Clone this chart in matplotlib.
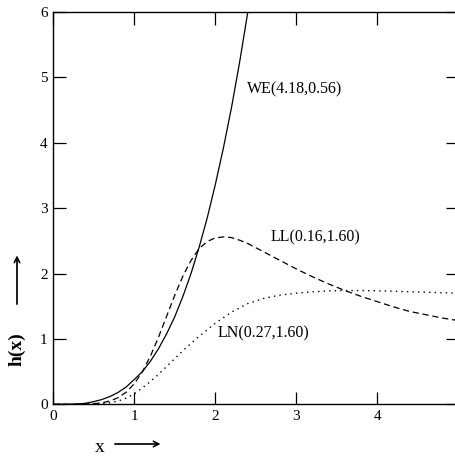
import matplotlib
matplotlib.use("Agg")
from matplotlib import pyplot as plt

plt.rcParams['font.family'] = ['Liberation Serif', 'DejaVu Serif']

# WE(4.18,0.56) hazard
x_we = [0.0, 0.1, 0.2, 0.3, 0.4, 0.5, 0.6, 0.7, 0.8, 0.9, 1.0, 1.1, 1.2, 1.3,
        1.4, 1.5, 1.6, 1.7, 1.8, 1.9, 2.0, 2.1, 2.2, 2.3, 2.4, 2.5]
h_we = [0.0, 0.0001, 0.001, 0.005, 0.016, 0.041, 0.073, 0.119, 0.182, 0.265,
        0.38, 0.50, 0.66, 0.853, 1.08, 1.34, 1.65, 2.0, 2.4, 2.85, 3.36,
        3.92, 4.54, 5.23, 5.99, 6.82]

# LL(0.16,1.60)
x_ll = [0.0, 0.2, 0.4, 0.5, 0.6, 0.7, 0.8, 0.9, 1.0, 1.1, 1.2, 1.3, 1.4, 1.5,
        1.6, 1.7, 1.8, 1.9, 2.0, 2.1, 2.2, 2.3, 2.4, 2.6, 2.8, 3.0, 3.2, 3.4,
        3.6, 3.8, 4.0, 4.2, 4.4, 4.6, 4.8, 5.0]
h_ll = [0.0, 0.0, 0.003, 0.009, 0.023, 0.051, 0.101, 0.185, 0.315, 0.498,
        0.74, 1.03, 1.35, 1.67, 1.96, 2.2, 2.38, 2.49, 2.545, 2.56, 2.55,
        2.51, 2.46, 2.33, 2.2, 2.07, 1.95, 1.84, 1.74, 1.65, 1.57, 1.49,
        1.42, 1.37, 1.32, 1.28]

# LN(0.27,1.60)
x_ln = [0.0, 0.2, 0.4, 0.5, 0.6, 0.7, 0.8, 0.9, 1.0, 1.1, 1.2, 1.3, 1.4, 1.5,
        1.6, 1.7, 1.8, 1.9, 2.0, 2.2, 2.4, 2.6, 2.8, 3.0, 3.2, 3.4, 3.6, 3.8,
        4.0, 4.2, 4.4, 4.6, 4.8, 5.0]
h_ln = [0.0, 0.0, 0.001, 0.004, 0.012, 0.026, 0.05, 0.095, 0.16, 0.25, 0.35,
        0.46, 0.58, 0.70, 0.82, 0.93, 1.04, 1.14, 1.24, 1.41, 1.54, 1.62,
        1.67, 1.70, 1.72, 1.735, 1.74, 1.74, 1.735, 1.73, 1.72, 1.715, 1.705,
        1.70]

fig = plt.figure(figsize=(4.56, 4.59), dpi=100)
ax = fig.add_axes([53.3 / 456, 54.7 / 459, 405 / 456, 392.3 / 459])

ax.plot(x_we, h_we, color='black', lw=0.9, ls='-')
ax.plot(x_ll, h_ll, color='black', lw=0.9, ls=(0, (5, 3)))
ax.plot(x_ln, h_ln, color='black', lw=1.0, ls=(0, (1, 3)))

ax.set_xlim(0, 5)
ax.set_ylim(0, 6)
ax.set_xticks([0, 1, 2, 3, 4, 5])
ax.set_yticks([0, 1, 2, 3, 4, 5, 6])
ax.tick_params(direction='in', length=9, width=0.9, top=True, right=True,
               labelsize=11, pad=4)
for s in ax.spines.values():
    s.set_linewidth(1.0)

ax.text(2.39, 4.82, 'WE(4.18,0.56)', fontsize=11.5, va='center')
ax.text(2.68, 2.55, 'LL(0.16,1.60)', fontsize=11.5, va='center')
ax.text(2.03, 1.09, 'LN(0.27,1.60)', fontsize=11.5, va='center')

# axis labels with arrows
fig.text(17 / 456, 1 - 349 / 459, 'h(x)', rotation=90, fontsize=14,
         fontweight='bold', ha='center', va='center')
fig.add_artist(plt.annotate('', xy=(17 / 456, 1 - 253 / 459),
                            xytext=(17 / 456, 1 - 307 / 459),
                            xycoords='figure fraction',
                            arrowprops=dict(arrowstyle='->', lw=0.9,
                                            color='black')))
fig.text(100 / 456, 1 - 447 / 459, 'x', fontsize=14, ha='center',
         va='center')
fig.add_artist(plt.annotate('', xy=(163 / 456, 1 - 444 / 459),
                            xytext=(112 / 456, 1 - 444 / 459),
                            xycoords='figure fraction',
                            arrowprops=dict(arrowstyle='->', lw=0.9,
                                            color='black')))

fig.savefig('out.png', dpi=100)
